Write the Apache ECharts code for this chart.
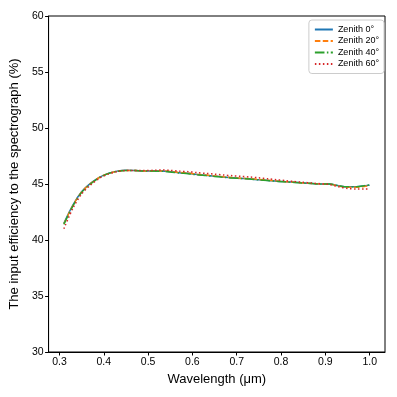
<!DOCTYPE html>
<html><head><meta charset="utf-8">
<script src="https://cdn.jsdelivr.net/npm/echarts@6/dist/echarts.min.js"></script>
<style>html,body{margin:0;padding:0;background:#fff}#c{width:397px;height:397px}</style>
</head><body><div id="c"></div>
<script>
const wavelength = [0.31,0.33,0.35,0.37,0.39,0.41,0.43,0.45,0.47,0.49,0.51,0.53,0.55,0.57,0.59,0.61,0.63,0.65,0.67,0.69,0.71,0.73,0.75,0.77,0.79,0.81,0.83,0.85,0.87,0.89,0.91,0.93,0.95,0.97,0.99,1.00];
const zenith0  = [41.5,43.1,44.3,45.05,45.6,45.95,46.15,46.22,46.2,46.15,46.15,46.15,46.1,46.0,45.95,45.85,45.78,45.7,45.62,45.55,45.5,45.45,45.38,45.32,45.25,45.2,45.15,45.1,45.05,45.0,45.0,44.85,44.75,44.75,44.85,44.9];
const zenith20 = [41.45,43.05,44.28,45.03,45.58,45.94,46.14,46.21,46.2,46.16,46.16,46.16,46.12,46.03,45.98,45.88,45.8,45.72,45.64,45.57,45.52,45.47,45.4,45.34,45.27,45.21,45.16,45.1,45.05,45.0,44.98,44.82,44.7,44.7,44.8,44.85];
const zenith40 = [41.4,43.0,44.25,45.0,45.56,45.93,46.13,46.2,46.2,46.15,46.15,46.14,46.08,45.98,45.92,45.82,45.75,45.68,45.6,45.53,45.49,45.44,45.37,45.31,45.24,45.19,45.14,45.09,45.04,44.99,44.99,44.84,44.75,44.76,44.86,44.92];
const zenith60 = [41.0,42.8,44.1,44.9,45.5,45.88,46.1,46.2,46.2,46.2,46.22,46.25,46.22,46.15,46.1,46.02,45.95,45.88,45.8,45.74,45.68,45.62,45.55,45.47,45.38,45.3,45.22,45.15,45.08,45.02,44.95,44.75,44.6,44.55,44.55,44.55];
const xTicks = [0.3,0.4,0.5,0.6,0.7,0.8,0.9,1.0];
const names = ['Zenith 0°','Zenith 20°','Zenith 40°','Zenith 60°'];

const colors = ['#1f77b4','#ff7f0e','#2ca02c','#d62728'];
const dashes = ['solid',[5.5,2.4],[9.6,2.4,1.5,2.4],[1.5,2.5]];
const data = [zenith0, zenith20, zenith40, zenith60];
const FONT = 'Liberation Sans';
const chart = echarts.init(document.getElementById('c'));
chart.setOption({
  animation:false,
  textStyle:{fontFamily:FONT},
  grid:{left:46,right:12,top:16,bottom:45,show:true,borderColor:'#000',borderWidth:1,containLabel:false},
  legend:{
    orient:'vertical', right:13, top:20,
    data:names,
    itemWidth:18, itemHeight:8, itemGap:2.5,
    padding:[5,5,5,5],
    borderColor:'#ccc', borderWidth:1, borderRadius:3,
    backgroundColor:'rgba(255,255,255,0.8)',
    textStyle:{fontSize:9,color:'#000',fontFamily:FONT},
    itemStyle:{opacity:0}
  },
  xAxis:{
    type:'value', min:0.2755, max:1.0345,
    name:'Wavelength (μm)', nameLocation:'middle', nameGap:21,
    nameTextStyle:{fontSize:13,color:'#000',fontFamily:FONT},
    axisLine:{show:true,lineStyle:{color:'#000',width:1}},
    axisTick:{show:true,length:3.5,customValues:xTicks,lineStyle:{color:'#000'}},
    axisLabel:{customValues:xTicks,fontSize:10.5,color:'#000',margin:5,formatter:v=>v.toFixed(1)},
    splitLine:{show:false}
  },
  yAxis:{
    type:'value', min:30, max:60, interval:5,
    name:'The input efficiency to the spectrograph (%)', nameLocation:'middle', nameGap:24,
    nameTextStyle:{fontSize:13,color:'#000',fontFamily:FONT},
    axisLine:{show:true,lineStyle:{color:'#000',width:1}},
    axisTick:{show:true,length:3.5,lineStyle:{color:'#000'}},
    axisLabel:{fontSize:10.5,color:'#000',margin:5},
    splitLine:{show:false}
  },
  series: names.map((n,i)=>({
    name:n, type:'line', showSymbol:false, symbol:'none', smooth:0.3,
    data: wavelength.map((w,j)=>[w,data[i][j]]),
    lineStyle:{color:colors[i],width:1.5,type:dashes[i]},
    itemStyle:{color:colors[i]},
    z: 2+i
  }))
});
</script></body></html>
